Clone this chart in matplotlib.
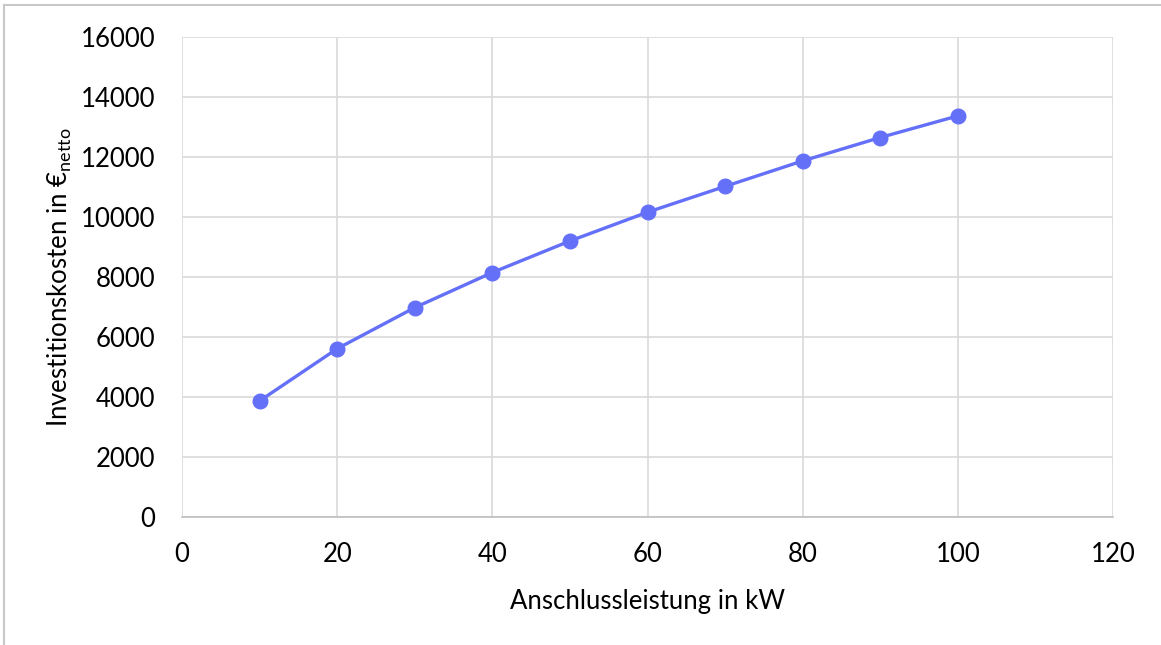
import matplotlib
matplotlib.use("Agg")
import matplotlib.pyplot as plt
from matplotlib.lines import Line2D

# Anschlussleistung (kW) vs. Investitionskosten (EUR netto)
leistung_kw = [10, 20, 30, 40, 50, 60, 70, 80, 90, 100]
kosten_eur = [3870, 5610, 6980, 8150, 9200, 10160, 11020, 11870, 12650, 13370]

x_ticks = [0, 20, 40, 60, 80, 100, 120]
y_ticks = [0, 2000, 4000, 6000, 8000, 10000, 12000, 14000, 16000]

plt.rcParams['font.family'] = ['Lato', 'DejaVu Sans']
plt.rcParams['mathtext.fontset'] = 'custom'
plt.rcParams['mathtext.rm'] = 'Lato'

fig = plt.figure(figsize=(11.61, 6.45), dpi=100)
ax = fig.add_axes([182 / 1161, 1 - 517 / 645, (1113 - 182) / 1161, (517 - 37) / 645])

ax.plot(leistung_kw, kosten_eur, color='#6470F8', linewidth=2.4,
        marker='o', markersize=10.5, zorder=3)

ax.set_xlim(0, 120)
ax.set_ylim(0, 16000)
ax.set_xticks(x_ticks)
ax.set_yticks(y_ticks)
ax.tick_params(axis='both', length=0, labelsize=18.5, colors='black')
ax.tick_params(axis='x', pad=18)
ax.tick_params(axis='y', pad=19)
ax.grid(True, color='#d9d9d9', linewidth=1.2)
ax.set_axisbelow(True)
for s in ['top', 'right', 'left']:
    ax.spines[s].set_visible(False)
ax.spines['bottom'].set_color('#bfbfbf')
ax.spines['bottom'].set_linewidth(1.2)

ax.set_xlabel('Anschlussleistung in kW', fontsize=18.5, labelpad=16)
ax.set_ylabel(r'Investitionskosten in €$_{\mathrm{netto}}$', fontsize=18.5, labelpad=5)

# outer chart border (only top and left visible in the crop)
fig.add_artist(Line2D([4 / 1161, 1], [1 - 5 / 645, 1 - 5 / 645], color='#c8c8c8', linewidth=1.5))
fig.add_artist(Line2D([4 / 1161, 4 / 1161], [0, 1 - 5 / 645], color='#c8c8c8', linewidth=1.5))

fig.savefig('out.png', dpi=100)
